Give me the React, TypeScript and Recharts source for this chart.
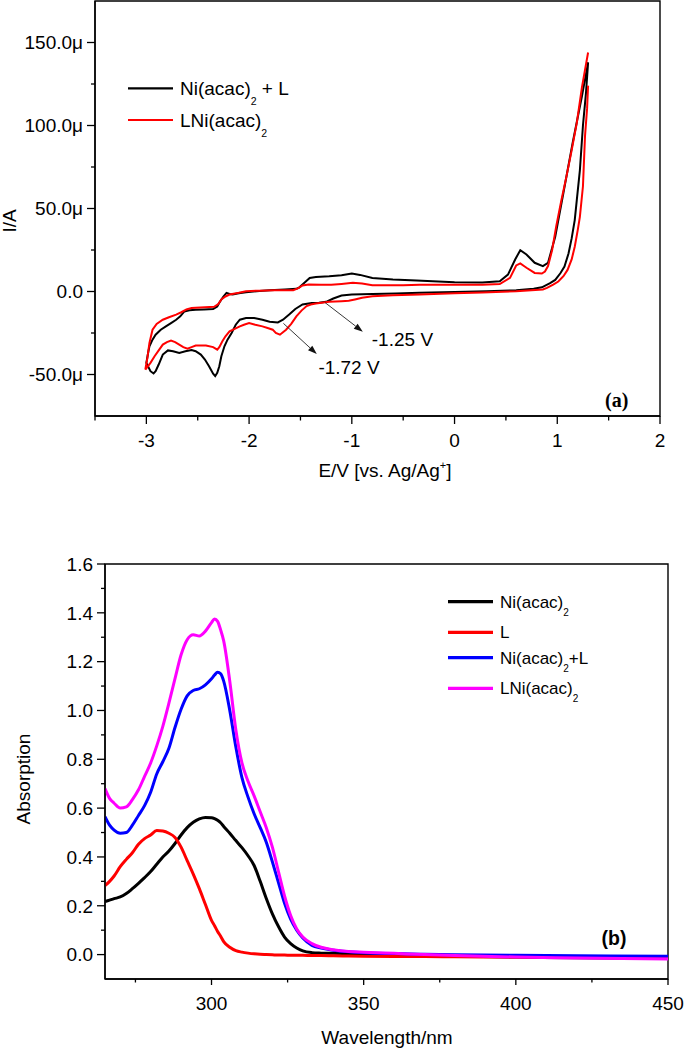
import React from 'react';
import { LineChart, Line, XAxis, YAxis, ReferenceArea, ReferenceLine, Legend } from 'recharts';

const FONT = '"Liberation Sans", Arial, Helvetica, sans-serif';
const SERIF = '"Liberation Serif", "Times New Roman", serif';

// ---- (a) cyclic voltammograms: E (V) and I (µA), in scan order ----
const cvBlackE = [
  1.30, 1.28, 1.25, 1.22, 1.19, 1.17, 1.14, 1.11, 1.07, 1.03,
  0.98, 0.93, 0.85, 0.77, 0.60, 0.31, 0.00, -0.34, -0.57, -0.80,
  -1.00, -1.10, -1.18, -1.25, -1.32, -1.39, -1.48, -1.55, -1.61, -1.67,
  -1.72, -1.80, -1.87, -1.95, -2.03, -2.09, -2.13, -2.17, -2.21, -2.24,
  -2.27, -2.29, -2.31, -2.33, -2.35, -2.39, -2.43, -2.47, -2.52, -2.56,
  -2.62, -2.68, -2.74, -2.79, -2.84, -2.88, -2.91, -2.93, -2.96, -3.00,
  -2.98, -2.97, -2.94, -2.91, -2.86, -2.81, -2.76, -2.71, -2.67, -2.63,
  -2.58, -2.52, -2.44, -2.35, -2.31, -2.29, -2.25, -2.22, -2.19, -2.16,
  -2.10, -2.03, -1.90, -1.80, -1.65, -1.54, -1.51, -1.48, -1.44, -1.41,
  -1.35, -1.22, -1.10, -1.00, -0.92, -0.80, -0.60, -0.37, 0.00, 0.27,
  0.44, 0.52, 0.59, 0.64, 0.70, 0.78, 0.86, 0.91, 0.98, 1.06,
  1.15, 1.24, 1.30,
];
const cvBlackI = [
  138, 120, 100, 73, 55, 43, 32, 23, 15, 11,
  7, 5, 2.5, 1.6, 0.8, 0.2, -0.3, -0.8, -1.2, -1.5,
  -1.8, -2.4, -4.2, -6.2, -6.8, -7.0, -7.8, -10.5, -13.9, -17,
  -18.6, -18.2, -17, -16, -16, -17, -20, -25, -29, -33,
  -39, -45, -49, -51, -49.5, -45, -41, -38, -36, -35.3,
  -36, -37, -36, -35.5, -38, -44, -48, -49.4, -48, -43,
  -36, -33, -29, -26, -23, -21, -19, -17, -15, -12,
  -11.3, -11, -10.8, -10.5, -9, -6.8, -3, -0.8, -1.5, -1.8,
  -1, -0.4, 0.3, 0.8, 1.2, 1.6, 2.5, 4.2, 6.5, 8.2,
  8.8, 9.2, 9.8, 10.8, 10, 8.2, 7.2, 6.6, 5.6, 5.4,
  6.2, 10.2, 19.3, 24.9, 22.3, 17.3, 15.3, 17.3, 33, 59.5,
  89.6, 117.6, 138,
];
const cvRedE = [
  1.30, 1.29, 1.27, 1.25, 1.22, 1.20, 1.17, 1.14, 1.10, 1.06,
  1.01, 0.96, 0.90, 0.86, 0.60, 0.27, 0.00, -0.34, -0.60, -0.80,
  -0.90, -0.97, -1.03, -1.10, -1.22, -1.35, -1.40, -1.44, -1.49, -1.54,
  -1.59, -1.64, -1.70, -1.74, -1.77, -1.82, -1.87, -1.94, -2.00, -2.05,
  -2.09, -2.14, -2.19, -2.23, -2.26, -2.29, -2.31, -2.35, -2.42, -2.52,
  -2.56, -2.60, -2.64, -2.68, -2.72, -2.76, -2.80, -2.84, -2.88, -2.92,
  -2.96, -3.01,
  -2.99, -2.97, -2.94, -2.90, -2.84, -2.78, -2.71, -2.66, -2.61, -2.56,
  -2.52, -2.43, -2.34, -2.30, -2.27, -2.23, -2.19, -2.10, -2.03, -1.90,
  -1.75, -1.57, -1.52, -1.48, -1.42, -1.30, -1.20, -1.10, -0.99, -0.90,
  -0.80, -0.50, -0.34, 0.00, 0.27, 0.44, 0.54, 0.60, 0.64, 0.70,
  0.78, 0.85, 0.88, 0.91, 0.95, 0.99, 1.04, 1.09, 1.14, 1.19,
  1.24, 1.30,
];
const cvRedI = [
  124, 110, 93.6, 63.4, 45, 37.3, 27, 19.3, 13, 9.2,
  6, 4.2, 2.2, 1.2, 0.2, -0.6, -1, -1.8, -2.3, -2.8,
  -3.8, -4.8, -5.6, -5.8, -6.2, -7.2, -7.8, -8.8, -11.5, -15,
  -19.5, -23, -26, -25, -23, -22, -21, -20, -19, -20,
  -21, -22.5, -24, -27, -30, -33.5, -35, -33.5, -32.5, -32.5,
  -33.5, -34.5, -33.5, -32, -30.5, -29.5, -30.5, -32, -35.5, -39,
  -43, -47,
  -40, -31, -23, -19.5, -17, -15.5, -13.9, -12.5, -10.8, -10,
  -9.8, -9.5, -9.2, -7.5, -4.8, -3, -1.8, -0.8, 0.2, 0.5,
  0.8, 0.8, 2, 3.6, 4.2, 4.0, 4.0, 4.5, 5.2, 4.8,
  3.8, 3.8, 4.0, 4.0, 4.1, 4.5, 8.2, 15.7, 16.9, 14.3,
  11.2, 10.8, 12, 15.3, 25, 39.4, 55, 69.5, 85, 101.6,
  123, 144,
];
const cvNames = ['Ni(acac)2 + L', 'LNi(acac)2'];
const cvXTicks = [-3.5, -3, -2.5, -2, -1.5, -1, -0.5, 0, 0.5, 1, 1.5, 2];
const cvYTicks = [-50, -25, 0, 25, 50, 75, 100, 125, 150];
const cvArrows = [
  { from: [-1.26, -6.7], to: [-0.893, -24.2], text: '-1.25 V', dx: 9, dy: 7.6 },
  { from: [-1.666, -19.2], to: [-1.341, -37.7], text: '-1.72 V', dx: 1.6, dy: 13.3 },
];

// ---- (b) UV-vis absorption ----
const wavelengths = [
  265, 266.5, 268, 270, 272, 274, 276, 278, 280, 282,
  284, 286, 288, 290, 292, 294, 296, 298, 300, 301,
  302, 303, 304, 306, 308, 310, 312, 314, 316, 318,
  320, 322, 324, 326, 328, 330, 333, 336, 340, 345,
  350, 360, 370, 380, 400, 420, 450,
];
const absNiAcac = [
  0.217, 0.223, 0.229, 0.236, 0.25, 0.27, 0.292, 0.315, 0.34, 0.37,
  0.40, 0.424, 0.455, 0.49, 0.52, 0.542, 0.556, 0.562, 0.561, 0.557,
  0.55, 0.54, 0.525, 0.497, 0.467, 0.438, 0.405, 0.365, 0.30, 0.23,
  0.167, 0.115, 0.072, 0.045, 0.027, 0.015, 0.008, 0.006, 0.005, 0.004,
  0.003, 0.0, -0.003, -0.006, -0.01, -0.013, -0.016,
];
const absL = [
  0.283, 0.30, 0.322, 0.36, 0.39, 0.417, 0.452, 0.475, 0.49, 0.508,
  0.506, 0.497, 0.48, 0.44, 0.385, 0.33, 0.27, 0.205, 0.14, 0.118,
  0.095, 0.075, 0.053, 0.03, 0.016, 0.01, 0.006, 0.003, 0.001, 0.0,
  -0.001, -0.002, -0.002, -0.003, -0.003, -0.003, -0.004, -0.004, -0.005, -0.006,
  -0.007, -0.008, -0.008, -0.009, -0.01, -0.011, -0.012,
];
const absMix = [
  0.565, 0.53, 0.51, 0.497, 0.50, 0.53, 0.57, 0.61, 0.665, 0.74,
  0.79, 0.845, 0.93, 1.005, 1.06, 1.082, 1.089, 1.105, 1.13, 1.145,
  1.157, 1.15, 1.12, 1.0, 0.85, 0.725, 0.645, 0.577, 0.52, 0.46,
  0.38, 0.295, 0.21, 0.145, 0.10, 0.068, 0.038, 0.027, 0.018, 0.012,
  0.008, 0.004, 0.001, -0.001, -0.003, -0.005, -0.007,
];
const absComplex = [
  0.68, 0.64, 0.62, 0.60, 0.605, 0.635, 0.675, 0.73, 0.785, 0.855,
  0.935, 1.03, 1.13, 1.228, 1.29, 1.31, 1.305, 1.325, 1.36, 1.375,
  1.365, 1.33, 1.285, 1.12, 0.92, 0.785, 0.71, 0.65, 0.585, 0.52,
  0.44, 0.34, 0.24, 0.16, 0.105, 0.072, 0.045, 0.03, 0.02, 0.013,
  0.01, 0.005, 0.0, -0.004, -0.01, -0.014, -0.018,
];
const uvNames = ['Ni(acac)2', 'L', 'Ni(acac)2+L', 'LNi(acac)2'];
const uvXTicks = [275, 300, 325, 350, 375, 400, 425, 450];
const uvYTicks = [0, 0.1, 0.2, 0.3, 0.4, 0.5, 0.6, 0.7, 0.8, 0.9, 1.0, 1.1, 1.2, 1.3, 1.4, 1.5, 1.6];

const zip = (xs: number[], ys: number[]) => xs.map((x, i) => ({ x, y: ys[i] }));
const cvBlack = zip(cvBlackE, cvBlackI);
const cvRed = zip(cvRedE, cvRedI);
const uvData = wavelengths.map((w, i) => ({
  w,
  ni: absNiAcac[i],
  l: absL[i],
  mix: absMix[i],
  lni: absComplex[i],
}));

const AXIS = { stroke: '#000', strokeWidth: 1.4 };

function makeYTick(isMajor: (v: number) => boolean, fmt: (v: number) => string, big: number, small: number) {
  return (props: any) => {
    const { x, y, payload } = props;
    const v = payload.value;
    const major = isMajor(v);
    return (
      <g>
        <line x1={x - (major ? big : small)} x2={x} y1={y} y2={y} stroke="#000" strokeWidth={1.3} />
        {major && (
          <text x={x - 12} y={y} dy="0.36em" textAnchor="end" fontSize={19} fontFamily={FONT} fill="#000">
            {fmt(v)}
          </text>
        )}
      </g>
    );
  };
}

function makeXTick(isMajor: (v: number) => boolean, big: number, small: number) {
  return (props: any) => {
    const { x, y, payload } = props;
    const v = payload.value;
    const major = isMajor(v);
    return (
      <g>
        <line x1={x} x2={x} y1={y} y2={y + (major ? big : small)} stroke="#000" strokeWidth={1.3} />
        {major && (
          <text x={x} y={y + 24} dy="0.36em" textAnchor="middle" fontSize={19} fontFamily={FONT} fill="#000">
            {String(v)}
          </text>
        )}
      </g>
    );
  };
}

const cvYTick = makeYTick((v) => v % 50 === 0, (v) => (v === 0 ? '0.0' : `${v.toFixed(1)}μ`), 8, 4);
const cvXTick = makeXTick((v) => Number.isInteger(v), 8, 4.5);
const uvYTick = makeYTick((v) => Math.round(v * 10) % 2 === 0, (v) => v.toFixed(1), 8, 4);
const uvXTick = makeXTick((v) => v % 50 === 0, 6, 3.5);

function Arrow(p: any) {
  const { x1, y1, x2, y2, text, dx, dy } = p;
  const ang = Math.atan2(y2 - y1, x2 - x1);
  const len = 9;
  const half = 3.2;
  const bx = x2 - len * Math.cos(ang);
  const by = y2 - len * Math.sin(ang);
  const px = -Math.sin(ang) * half;
  const py = Math.cos(ang) * half;
  return (
    <g>
      <line x1={x1} y1={y1} x2={bx} y2={by} stroke="#222" strokeWidth={0.9} />
      <polygon points={`${x2},${y2} ${bx + px},${by + py} ${bx - px},${by - py}`} fill="#111" />
      <text x={x2 + dx} y={y2 + dy} dy="0.36em" fontSize={19} fontFamily={FONT} fill="#000">
        {text}
      </text>
    </g>
  );
}

// "Ni(acac)2 + L" -> subscript the 2 after the bracket
function chem(name: string, subDy: number, subSize: number) {
  const parts = name.split(')2');
  if (parts.length === 1) return name;
  return (
    <>
      <tspan>{parts[0] + ')'}</tspan>
      <tspan dy={subDy} fontSize={subSize}>2</tspan>
      <tspan dy={-subDy}>{parts[1] || ''}</tspan>
    </>
  );
}

function ChemLegend(props: any) {
  const { payload = [], order, rows, fontSize, subDy, subSize, sw, width, height } = props;
  const items = [...payload].sort((a: any, b: any) => order.indexOf(a.value) - order.indexOf(b.value));
  return (
    <svg width={width} height={height} style={{ display: 'block', overflow: 'visible' }}>
      {items.map((p: any, i: number) => (
        <g key={p.value}>
          <line x1={8} x2={53} y1={rows[i]} y2={rows[i]} stroke={p.color} strokeWidth={sw} />
          <text x={60} y={rows[i]} dy="0.36em" fontSize={fontSize} fontFamily={FONT} fill="#000" style={{ whiteSpace: 'pre' }}>
            {chem(String(p.value), subDy, subSize)}
          </text>
        </g>
      ))}
    </svg>
  );
}

export default function App() {
  return (
    <div style={{ position: 'absolute', left: 0, top: 0, width: 685, height: 1048, background: '#fff', overflow: 'hidden' }}>
      <div style={{ position: 'absolute', left: 0, top: 0 }}>
        <LineChart width={685} height={480} margin={{ top: 1, right: 25, bottom: 14, left: 0 }}>
          <XAxis
            type="number"
            dataKey="x"
            domain={[-3.5, 2]}
            ticks={cvXTicks}
            interval={0}
            allowDataOverflow
            tickSize={0}
            tickMargin={0}
            tickLine={false}
            tick={cvXTick}
            axisLine={AXIS}
            height={50}
          />
          <YAxis
            type="number"
            domain={[-75, 175]}
            ticks={cvYTicks}
            interval={0}
            allowDataOverflow
            tickSize={0}
            tickMargin={0}
            tickLine={false}
            tick={cvYTick}
            axisLine={AXIS}
            width={95}
          />
          <ReferenceArea x1={-3.5} x2={2} y1={-75} y2={175} fill="none" stroke="#000" strokeWidth={1.4} />
          <Line name={cvNames[0]} data={cvBlack} dataKey="y" type="linear" stroke="#000" strokeWidth={2} dot={false} isAnimationActive={false} />
          <Line name={cvNames[1]} data={cvRed} dataKey="y" type="linear" stroke="#ff0000" strokeWidth={2} dot={false} isAnimationActive={false} />
          {cvArrows.map((a) => (
            <ReferenceLine
              key={a.text}
              segment={[{ x: a.from[0], y: a.from[1] }, { x: a.to[0], y: a.to[1] }]}
              stroke="#222"
              shape={(p: any) => <Arrow {...p} text={a.text} dx={a.dx} dy={a.dy} />}
            />
          ))}
          <Legend
            layout="horizontal"
            verticalAlign="middle"
            align="center"
            wrapperStyle={{ left: 120, top: 70, width: 200, height: 70 }}
            content={(p: any) => (
              <ChemLegend payload={p.payload} order={cvNames} rows={[18.3, 50]} fontSize={19} subDy={10} subSize={10.5} sw={2.2} width={200} height={70} />
            )}
          />
        </LineChart>
      </div>

      <div style={{ position: 'absolute', left: 0, top: 540 }}>
        <LineChart width={685} height={508} data={uvData} margin={{ top: 24, right: 17, bottom: 19, left: 0 }}>
          <XAxis
            type="number"
            dataKey="w"
            domain={[265, 450]}
            ticks={uvXTicks}
            interval={0}
            allowDataOverflow
            tickSize={0}
            tickMargin={0}
            tickLine={false}
            tick={uvXTick}
            axisLine={AXIS}
            height={50}
          />
          <YAxis
            type="number"
            domain={[-0.1, 1.6]}
            ticks={uvYTicks}
            interval={0}
            allowDataOverflow
            tickSize={0}
            tickMargin={0}
            tickLine={false}
            tick={uvYTick}
            axisLine={AXIS}
            width={105}
          />
          <ReferenceArea x1={265} x2={450} y1={-0.1} y2={1.6} fill="none" stroke="#000" strokeWidth={1.4} />
          <Line name={uvNames[0]} dataKey="ni" type="monotone" stroke="#000" strokeWidth={3} dot={false} isAnimationActive={false} />
          <Line name={uvNames[1]} dataKey="l" type="monotone" stroke="#ff0000" strokeWidth={3} dot={false} isAnimationActive={false} />
          <Line name={uvNames[2]} dataKey="mix" type="monotone" stroke="#0000ff" strokeWidth={3} dot={false} isAnimationActive={false} />
          <Line name={uvNames[3]} dataKey="lni" type="monotone" stroke="#ff00ff" strokeWidth={3} dot={false} isAnimationActive={false} />
          <Legend
            layout="horizontal"
            verticalAlign="middle"
            align="center"
            wrapperStyle={{ left: 440, top: 40, width: 200, height: 130 }}
            content={(p: any) => (
              <ChemLegend payload={p.payload} order={uvNames} rows={[21.7, 52.3, 77.7, 108.3]} fontSize={17} subDy={8} subSize={10} sw={3.2} width={200} height={130} />
            )}
          />
        </LineChart>
      </div>

      <svg width={685} height={1048} style={{ position: 'absolute', left: 0, top: 0, pointerEvents: 'none' }}>
        <text transform="translate(9.5,221) rotate(-90)" dy="0.36em" textAnchor="middle" fontSize={19} fontFamily={FONT} fill="#000">
          I/A
        </text>
        <text x={385} y={470} dy="0.36em" textAnchor="middle" fontSize={19} fontFamily={FONT} fill="#000">
          E/V [vs. Ag/Ag
          <tspan dy={-8} fontSize={11}>+</tspan>
          <tspan dy={8}>]</tspan>
        </text>
        <text x={616.7} y={400} dy="0.36em" textAnchor="middle" fontSize={20} fontWeight="bold" fontFamily={SERIF} fill="#000">
          (a)
        </text>
        <text transform="translate(23.5,779) rotate(-90)" dy="0.36em" textAnchor="middle" fontSize={19} fontFamily={FONT} fill="#000">
          Absorption
        </text>
        <text x={387} y={1036.7} dy="0.36em" textAnchor="middle" fontSize={19} fontFamily={FONT} fill="#000">
          Wavelength/nm
        </text>
        <text x={614} y={938} dy="0.36em" textAnchor="middle" fontSize={19.5} fontWeight="bold" fontFamily={FONT} fill="#000">
          (b)
        </text>
      </svg>
    </div>
  );
}
